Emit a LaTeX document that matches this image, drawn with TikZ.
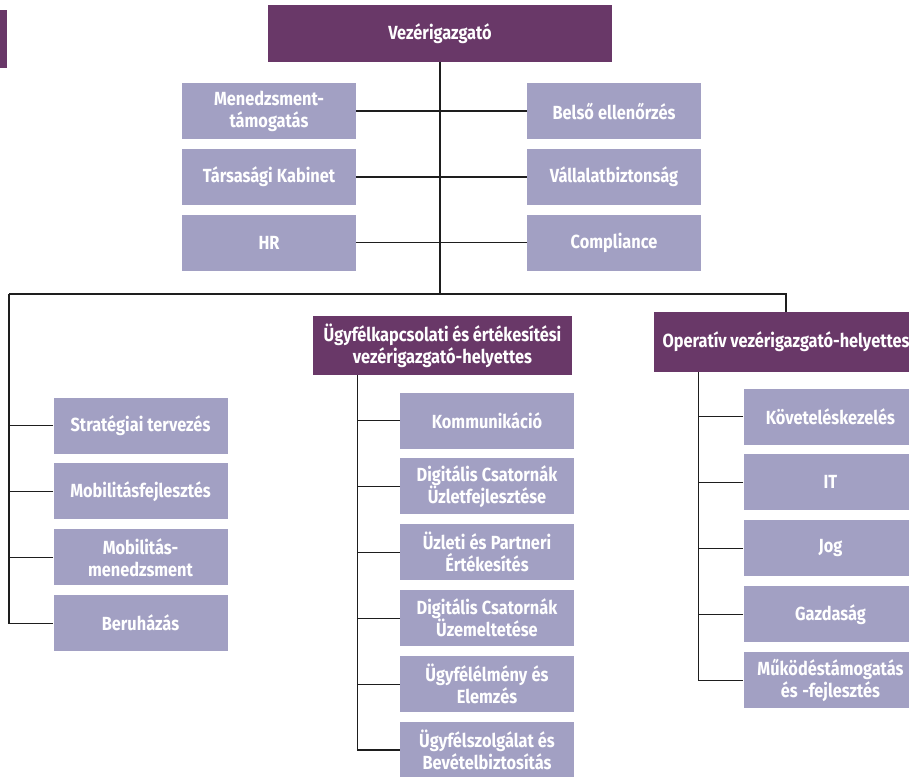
\documentclass[tikz,border=0pt]{standalone}
\usepackage{fontspec}
\setmainfont{Fira Sans}[FakeStretch=0.86]
\usetikzlibrary{positioning,calc}
\definecolor{head}{HTML}{693868}
\definecolor{unit}{HTML}{A2A0C3}
\definecolor{wire}{HTML}{1E1E1E}
\tikzset{
  box/.style = {font=\bfseries\fontsize{19}{22}\selectfont,text=white,align=center,inner sep=0pt,
    execute at begin node={\spaceskip=3.6pt plus 1pt\relax}},
  headbox/.style = {box,fill=head},
  unitbox/.style = {box,fill=unit,minimum width=174pt,minimum height=56pt,text width=172pt},
  conn/.style = {draw=wire,line width=1.2pt}
}
\newlength{\vgap}
\setlength{\vgap}{9.5pt}
\begin{document}
\begin{tikzpicture}
\clip (0,0) rectangle (909pt,-776pt);
\useasboundingbox (0,0) rectangle (909pt,-776pt);

% cut-off box at the left edge
\fill[head] (-20pt,-10pt) rectangle (7pt,-68pt);

\node[headbox,minimum width=344pt,minimum height=57pt] (ceo) at (440pt,-33.5pt) {Vezérigazgató};

% staff units
\node[unitbox] (mgmt) at (269pt,-111pt) {Menedzsment-\\támogatás};
\node[unitbox,below=\vgap of mgmt] (cab) {Társasági Kabinet};
\node[unitbox,below=\vgap of cab] (hr) {HR};

\node[unitbox] (audit) at (614pt,-111pt) {Belső ellenőrzés};
\node[unitbox,below=\vgap of audit] (sec) {Vállalatbiztonság};
\node[unitbox,below=\vgap of sec] (compl) {Compliance};

\coordinate (hl) at (9pt,-294pt);

\draw[conn] (ceo.south) -- (ceo.south |- hl);
\foreach \n in {mgmt,cab,hr}
  \draw[conn] (\n.east) -- (\n.east -| ceo.south);
\foreach \n in {audit,sec,compl}
  \draw[conn] (\n.west) -- (\n.west -| ceo.south);

% left column
\node[unitbox] (strat) at (140.5pt,-425.5pt) {Stratégiai tervezés};
\node[unitbox,below=\vgap of strat] (mobf) {Mobilitásfejlesztés};
\node[unitbox,below=\vgap of mobf] (mobm) {Mobilitás-\\menedzsment};
\node[unitbox,below=\vgap of mobm] (inv) {Beruházás};

% deputies
\node[headbox,minimum width=259pt,minimum height=59pt] (cust) at (442.5pt,-345.5pt) {Ügyfélkapcsolati és értékesítési\\vezérigazgató-helyettes};
\node[headbox,minimum width=264pt,minimum height=60pt] (ops) at (786pt,-342pt) {Operatív vezérigazgató-helyettes};

\draw[conn] (hl) -| (ops.north);
\draw[conn] (hl) |- (inv.west);
\foreach \n in {strat,mobf,mobm}
  \draw[conn] (\n.west) -- (\n.west -| hl);

% customer deputy
\node[unitbox] (comm) at (487pt,-420.5pt) {Kommunikáció};
\node[unitbox,below=\vgap of comm] (dcb) {Digitális Csatornák\\Üzletfejlesztése};
\node[unitbox,below=\vgap of dcb] (sales) {Üzleti és Partneri\\Értékesítés};
\node[unitbox,below=\vgap of sales] (dco) {Digitális Csatornák\\Üzemeltetése};
\node[unitbox,below=\vgap of dco] (cx) {Ügyfélélmény és\\Elemzés};
\node[unitbox,below=\vgap of cx] (care) {Ügyfélszolgálat és\\Bevételbiztosítás};

\coordinate (ct) at ([xshift=45pt]cust.south west);
\draw[conn] (ct) |- (care.west);
\foreach \n in {comm,dcb,sales,dco,cx}
  \draw[conn] (\n.west) -- (\n.west -| ct);

% operations deputy
\node[unitbox] (debt) at (830.5pt,-416.5pt) {Követeléskezelés};
\node[unitbox,below=\vgap of debt] (it) {IT};
\node[unitbox,below=\vgap of it] (law) {Jog};
\node[unitbox,below=\vgap of law] (fin) {Gazdaság};
\node[unitbox,below=\vgap of fin] (opsup) {Működéstámogatás\\és -fejlesztés};

\coordinate (ot) at ([xshift=45pt]ops.south west);
\draw[conn] (ot) |- (opsup.west);
\foreach \n in {debt,it,law,fin}
  \draw[conn] (\n.west) -- (\n.west -| ot);
\end{tikzpicture}
\end{document}
